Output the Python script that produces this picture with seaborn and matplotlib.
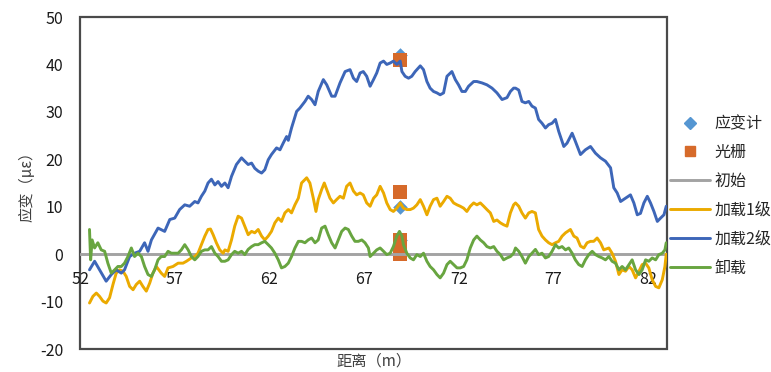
import pandas as pd
import seaborn as sns
import matplotlib.pyplot as plt
from matplotlib.lines import Line2D

# ---- data (distance in m, strain in micro-strain) ----
init_x = [52, 83]
init_y = [0, 0]

load1_x = [52.5, 52.68, 52.86, 53.03, 53.21, 53.38, 53.56, 53.74, 53.91, 54.09,
           54.27, 54.44, 54.62, 54.8, 54.97, 55.15, 55.32, 55.5, 55.68, 55.85,
           56.03, 56.29, 56.47, 56.65, 56.91, 57.18, 57.44, 57.62, 57.88, 58.06,
           58.23, 58.41, 58.59, 58.76, 58.89, 59.03, 59.2, 59.38, 59.56, 59.65,
           59.82, 60.0, 60.17, 60.35, 60.53, 60.7, 60.88, 61.06, 61.23, 61.41,
           61.59, 61.76, 61.94, 62.11, 62.29, 62.47, 62.64, 62.82, 63.0, 63.17,
           63.35, 63.53, 63.7, 63.97, 64.14, 64.32, 64.46, 64.58, 64.76, 64.9,
           65.03, 65.2, 65.38, 65.55, 65.73, 65.91, 66.08, 66.26, 66.44, 66.61,
           66.79, 66.96, 67.14, 67.32, 67.5, 67.67, 67.85, 68.03, 68.2, 68.38,
           68.55, 68.73, 68.91, 69.08, 69.26, 69.44, 69.61, 69.79, 69.97, 70.14,
           70.32, 70.49, 70.67, 70.85, 71.02, 71.2, 71.38, 71.55, 71.73, 71.91,
           72.08, 72.26, 72.43, 72.61, 72.79, 72.96, 73.14, 73.32, 73.49, 73.67,
           73.85, 74.02, 74.2, 74.37, 74.55, 74.73, 74.9, 75.0, 75.17, 75.34,
           75.52, 75.7, 75.87, 76.05, 76.22, 76.4, 76.58, 76.75, 76.93, 77.11,
           77.28, 77.46, 77.64, 77.9, 78.08, 78.25, 78.43, 78.61, 78.78, 78.96,
           79.13, 79.31, 79.49, 79.66, 79.93, 80.1, 80.28, 80.46, 80.63, 80.81,
           80.99, 81.16, 81.34, 81.52, 81.69, 81.87, 82.04, 82.22, 82.4, 82.57,
           82.75, 82.89, 82.96]
load1_y = [-10.3, -8.9, -8.2, -8.9, -9.9, -10.3, -9.2, -6.4, -4.0, -3.3,
           -3.6, -4.7, -6.8, -7.5, -6.4, -5.7, -6.8, -7.8, -6.1, -4.0,
           -2.6, -4.0, -4.7, -2.9, -2.6, -1.9, -1.9, -1.5, -0.8, -0.5,
           0.2, 2.0, 3.8, 5.2, 5.3, 4.1, 2.4, 0.9, 0.2, 0.9,
           0.6, 3.0, 5.9, 8.0, 7.6, 5.9, 4.1, 4.8, 4.5, 5.2,
           3.8, 3.0, 3.8, 4.8, 6.6, 7.6, 6.9, 8.7, 9.4, 8.7,
           10.4, 11.8, 15.0, 16.1, 15.0, 11.8, 9.0, 11.5, 13.6, 15.0,
           13.6, 11.8, 10.8, 11.5, 12.2, 11.8, 14.3, 15.0, 13.3, 12.5,
           12.9, 12.5, 10.8, 10.1, 11.8, 12.5, 14.3, 12.9, 10.8, 9.4,
           9.0, 9.7, 10.8, 9.7, 9.4, 9.4, 9.7, 10.4, 11.5, 10.1,
           8.3, 10.1, 11.5, 11.8, 10.1, 11.1, 12.2, 11.8, 10.8, 10.4,
           10.1, 9.7, 9.0, 10.1, 10.8, 10.4, 10.8, 10.1, 9.4, 8.7,
           6.9, 7.2, 6.6, 6.2, 5.9, 8.7, 10.4, 10.8, 10.1, 8.7,
           7.6, 8.7, 9.0, 8.7, 5.2, 3.8, 3.0, 2.4, 2.0, 2.4,
           2.7, 3.8, 4.5, 5.2, 3.8, 3.4, 1.7, 1.3, 2.4, 2.7,
           2.7, 3.4, 2.4, 0.9, 1.3, 0.2, -1.5, -4.3, -3.3, -3.6,
           -2.6, -3.3, -5.0, -3.6, -2.2, -1.9, -2.9, -5.4, -6.8, -7.1,
           -5.4, -2.6, 0.0]

load2_x = [52.5, 52.77, 53.03, 53.38, 53.65, 53.91, 54.18, 54.35, 54.62, 54.88,
           55.15, 55.41, 55.59, 55.77, 56.12, 56.47, 56.74, 57.0, 57.26, 57.53,
           57.79, 58.06, 58.23, 58.41, 58.59, 58.76, 58.94, 59.12, 59.29, 59.47,
           59.65, 59.82, 60.0, 60.26, 60.53, 60.7, 60.88, 61.06, 61.23, 61.41,
           61.59, 61.76, 61.94, 62.11, 62.38, 62.56, 62.73, 62.91, 63.0, 63.17,
           63.44, 63.61, 63.88, 64.05, 64.23, 64.41, 64.58, 64.85, 65.03, 65.29,
           65.47, 65.73, 66.0, 66.26, 66.44, 66.61, 66.79, 66.96, 67.14, 67.32,
           67.5, 67.67, 67.85, 68.03, 68.2, 68.38, 68.55, 68.73, 68.91, 69.0,
           69.17, 69.35, 69.52, 69.7, 69.97, 70.14, 70.32, 70.49, 70.67, 70.85,
           71.02, 71.2, 71.38, 71.64, 71.82, 71.99, 72.17, 72.35, 72.52, 72.79,
           72.96, 73.23, 73.49, 73.76, 74.02, 74.29, 74.55, 74.73, 74.9, 75.0,
           75.17, 75.34, 75.52, 75.7, 75.87, 76.05, 76.22, 76.4, 76.58, 76.75,
           76.93, 77.11, 77.28, 77.55, 77.72, 77.99, 78.16, 78.43, 78.69, 78.96,
           79.22, 79.49, 79.75, 80.02, 80.19, 80.37, 80.55, 80.81, 81.07, 81.25,
           81.43, 81.6, 81.78, 81.96, 82.13, 82.31, 82.49, 82.66, 82.84, 82.96]
load2_y = [-3.3, -1.5, -3.3, -5.7, -4.3, -3.3, -4.0, -3.3, -0.5, 0.2,
           0.6, 2.4, 0.6, 3.0, 5.5, 4.8, 7.3, 7.6, 9.4, 10.4,
           10.1, 11.1, 10.8, 12.2, 13.3, 15.0, 15.8, 14.6, 15.3, 14.3,
           15.0, 14.0, 16.4, 18.9, 20.3, 19.6, 18.9, 19.2, 18.1, 17.5,
           17.1, 17.8, 19.9, 21.0, 22.4, 22.0, 23.4, 24.8, 24.0, 26.6,
           30.1, 30.8, 32.2, 33.3, 32.6, 31.5, 34.3, 36.8, 35.7, 33.3,
           33.3, 36.1, 38.5, 38.9, 37.1, 36.4, 38.2, 38.5, 37.5, 35.4,
           36.8, 38.2, 40.3, 40.7, 40.0, 40.3, 40.7, 40.0, 40.7, 38.5,
           37.5, 37.1, 37.5, 38.5, 39.7, 38.9, 36.4, 35.0, 34.3, 34.0,
           33.6, 34.0, 37.5, 38.5, 36.8, 35.7, 34.3, 34.3, 35.4, 36.4,
           36.4, 36.1, 35.7, 35.0, 34.0, 32.6, 33.0, 34.3, 35.0, 35.0,
           34.6, 32.2, 31.9, 32.2, 31.2, 30.8, 28.4, 27.6, 26.6, 27.3,
           27.6, 28.4, 25.9, 22.7, 23.4, 25.5, 23.8, 21.0, 22.0, 22.7,
           21.3, 20.3, 19.6, 18.2, 14.0, 12.9, 11.1, 11.8, 12.5, 10.8,
           8.3, 8.6, 10.8, 12.2, 10.8, 9.0, 6.9, 7.6, 8.3, 10.1]

unload_x = [52.5, 52.56, 52.64, 52.77, 52.94, 53.12, 53.3, 53.47, 53.65, 53.83,
            54.0, 54.18, 54.35, 54.53, 54.71, 54.88, 55.06, 55.24, 55.41, 55.59,
            55.77, 55.94, 56.12, 56.29, 56.47, 56.65, 56.82, 57.0, 57.18, 57.35,
            57.53, 57.71, 57.88, 58.06, 58.23, 58.41, 58.59, 58.76, 58.94, 59.12,
            59.29, 59.47, 59.65, 59.82, 60.0, 60.17, 60.35, 60.53, 60.7, 60.88,
            61.06, 61.23, 61.41, 61.59, 61.76, 61.94, 62.11, 62.29, 62.47, 62.64,
            62.82, 63.0, 63.17, 63.35, 63.53, 63.7, 63.88, 64.05, 64.23, 64.41,
            64.58, 64.76, 64.94, 65.11, 65.29, 65.47, 65.64, 65.82, 66.0, 66.17,
            66.35, 66.52, 66.7, 66.88, 67.05, 67.23, 67.32, 67.5, 67.67, 67.85,
            68.03, 68.2, 68.38, 68.55, 68.73, 68.87, 69.0, 69.08, 69.26, 69.44,
            69.61, 69.79, 69.97, 70.14, 70.32, 70.49, 70.67, 70.85, 71.02, 71.2,
            71.38, 71.55, 71.73, 71.91, 72.08, 72.26, 72.43, 72.61, 72.79, 72.96,
            73.14, 73.32, 73.49, 73.67, 73.85, 74.02, 74.2, 74.37, 74.55, 74.73,
            74.9, 75.0, 75.17, 75.34, 75.52, 75.7, 75.87, 76.05, 76.22, 76.4,
            76.58, 76.75, 76.93, 77.11, 77.28, 77.46, 77.64, 77.81, 77.99, 78.16,
            78.34, 78.52, 78.69, 78.87, 79.05, 79.22, 79.4, 79.58, 79.75, 79.93,
            80.1, 80.28, 80.46, 80.63, 80.81, 80.99, 81.16, 81.34, 81.52, 81.69,
            81.87, 82.04, 82.22, 82.4, 82.57, 82.75, 82.89, 82.96]
unload_y = [5.2, -1.2, 3.0, 1.3, 2.4, 0.9, 0.6, -1.9, -4.0, -3.3,
            -2.6, -2.6, -1.9, -0.5, 1.3, -0.5, 0.2, -0.5, -2.6, -4.3,
            -4.7, -3.3, -1.2, -0.5, -0.5, 0.6, 0.2, 0.2, 0.2, 0.9,
            2.0, 0.9, -0.5, -1.2, -0.5, 0.6, 0.9, 0.9, 1.6, 0.2,
            -0.5, -1.5, -1.5, -1.2, -0.1, 0.6, 0.2, 0.6, -0.1, 1.0,
            1.6, 2.0, 2.0, 2.4, 2.7, 2.0, 1.3, 0.2, -1.2, -2.9,
            -2.6, -1.9, -0.5, 1.3, 2.7, 2.7, 2.4, 3.0, 3.4, 2.4,
            3.0, 5.5, 5.9, 4.1, 2.4, 1.3, 3.0, 4.8, 5.5, 5.2,
            3.8, 2.7, 2.7, 3.0, 2.4, 1.3, -0.5, 0.2, 0.9, 1.3,
            0.6, -0.1, 0.2, 1.6, 3.8, 4.8, 3.8, 2.0, 0.2, -0.8,
            -1.2, -0.1, -0.5, 0.2, -1.5, -2.6, -3.3, -4.3, -5.0, -4.0,
            -2.2, -1.5, -2.2, -2.9, -2.9, -2.6, -1.2, 1.3, 3.0, 3.8,
            3.0, 2.4, 1.6, 1.3, 1.6, 0.6, -0.1, -1.2, -0.8, -0.5,
            0.2, 1.3, 0.6, -0.5, -1.9, -0.5, 0.2, 1.0, -0.1, 0.2,
            -0.8, -0.5, 0.6, 2.0, 1.3, 1.6, 0.9, 1.3, 0.2, -1.2,
            -2.2, -2.6, -1.2, -0.1, 0.6, -0.1, -0.5, -0.8, -1.2, -0.5,
            -1.5, -1.9, -3.3, -2.6, -3.3, -2.2, -1.2, -3.3, -4.3, -3.3,
            -1.2, -1.5, -0.8, -1.2, -0.1, 0.2, 0.9, 2.4]

gauge_x = [68.9, 68.9, 68.9]
gauge_y = [42, 10, 3]
fbg_x = [68.9, 68.9, 68.9, 68.9]
fbg_y = [41, 13, 3, 0]

x_ticks = [52, 57, 62, 67, 72, 77, 82]
y_ticks = [-20, -10, 0, 10, 20, 30, 40, 50]

line_names = ['初始', '加载1级', '加载2级', '卸载']
line_colors = ['#A3A3A3', '#EBAA00', '#3D66B8', '#68A540']
gauge_color = '#5596D2'
fbg_color = '#D66A2A'

# long form table for seaborn
lines = pd.concat([
    pd.DataFrame({'距离': init_x, '应变': init_y, '工况': '初始'}),
    pd.DataFrame({'距离': load1_x, '应变': load1_y, '工况': '加载1级'}),
    pd.DataFrame({'距离': load2_x, '应变': load2_y, '工况': '加载2级'}),
    pd.DataFrame({'距离': unload_x, '应变': unload_y, '工况': '卸载'}),
], ignore_index=True)

sns.set_theme(style='white')
plt.rcParams['font.family'] = ['Noto Sans CJK SC', 'DejaVu Sans']
plt.rcParams['axes.unicode_minus'] = False

fig = plt.figure(figsize=(7.71, 3.72), dpi=100)
ax = fig.add_axes([0.1038, 0.0618, 0.7613, 0.8925])

sns.scatterplot(x=gauge_x, y=gauge_y, marker='D', s=55, color=gauge_color,
                linewidth=0, ax=ax, zorder=1)
sns.scatterplot(x=fbg_x, y=fbg_y, marker='s', s=95, color=fbg_color,
                linewidth=0, ax=ax, zorder=1)
sns.lineplot(data=lines, x='距离', y='应变', hue='工况', hue_order=line_names,
             palette=line_colors, sort=False, estimator=None, linewidth=2.1,
             legend=False, ax=ax)

ax.set_xlim(52, 83)
ax.set_ylim(-20, 50)
ax.set_xticks(x_ticks)
ax.set_yticks(y_ticks)

# Excel style: category labels sit on the zero line, frame around plot area
for sp in ax.spines.values():
    sp.set_visible(False)
ax.spines['bottom'].set_position(('data', 0))
ax.patch.set_edgecolor('#4a4a4a')
ax.patch.set_linewidth(1.6)

ax.tick_params(axis='both', length=0, labelsize=11.5, labelcolor='#1a1a1a')
ax.tick_params(axis='x', pad=12)
ax.tick_params(axis='y', pad=12)

ax.set_xlabel('距离（m）', fontsize=11, color='#404040')
ax.set_ylabel('应变（με）', fontsize=11, color='#404040', labelpad=3)
ax.xaxis.set_label_coords(0.5, -0.012)

handles = [
    Line2D([], [], marker='D', color=gauge_color, linestyle='none', markersize=6),
    Line2D([], [], marker='s', color=fbg_color, linestyle='none', markersize=7.5),
] + [Line2D([], [], color=c, linewidth=2.1) for c in line_colors]
labels = ['应变计', '光栅'] + line_names
fig.legend(handles, labels, loc='center left', bbox_to_anchor=(0.869, 0.473),
           frameon=False, fontsize=11.5, handlelength=2.5, handletextpad=0.3,
           labelspacing=0.75, borderaxespad=0, borderpad=0)

fig.savefig('out.png', dpi=100)
